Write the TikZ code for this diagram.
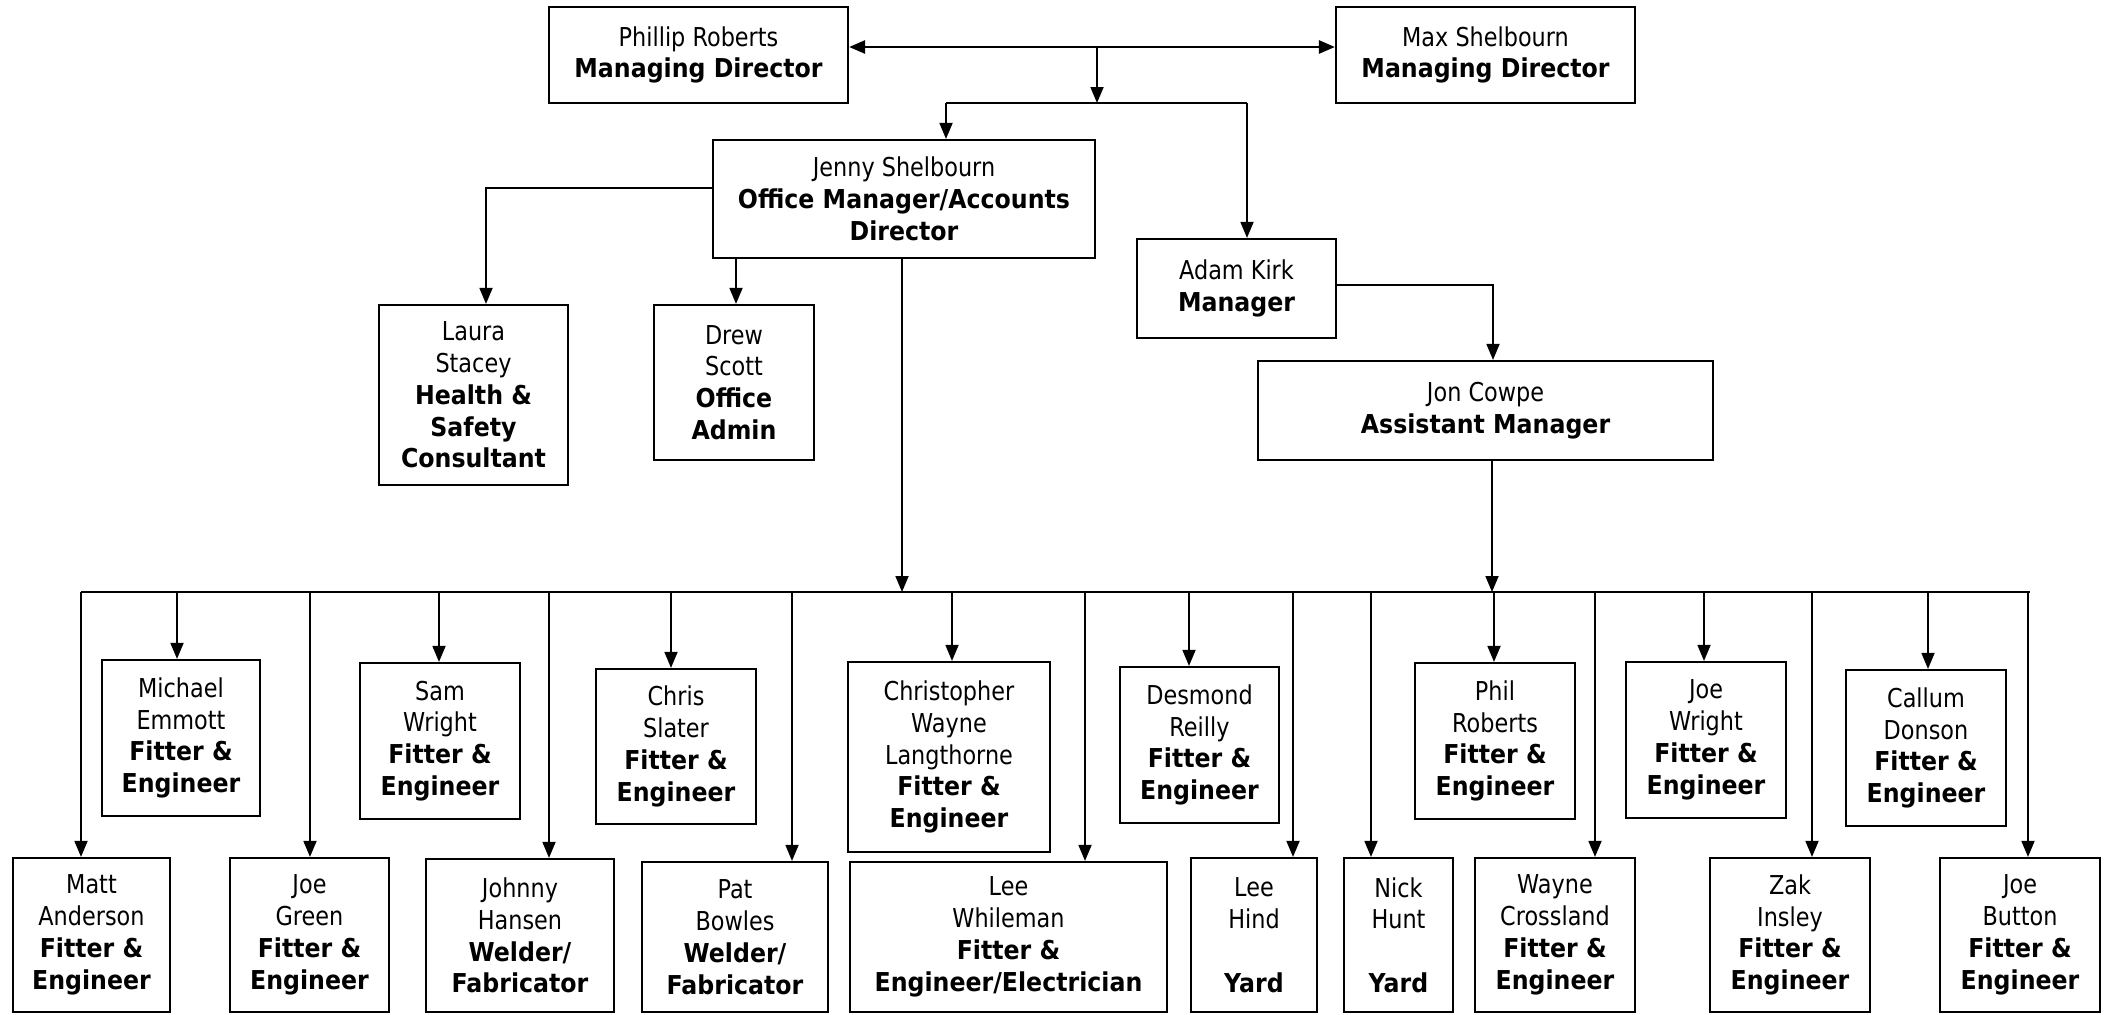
\documentclass[tikz,border=0pt]{standalone}
\usepackage{fontspec}
\setmainfont{DejaVu Sans}[UprightFeatures={FakeStretch=0.86},BoldFeatures={FakeStretch=0.91}]
\usetikzlibrary{arrows.meta,calc}
\begin{document}
\begin{tikzpicture}[x=1pt,y=-1pt,
  box/.style={draw, line width=2.2pt, align=center, inner sep=2pt, fill=white,
    font=\fontsize{26}{31.8}\selectfont},
  conn/.style={line width=1.8pt},
  arr/.style={line width=1.8pt, -{Triangle[length=16pt,width=13pt]}},
  darr/.style={line width=2.6pt, {Triangle[length=16pt,width=13pt]}-{Triangle[length=16pt,width=13pt]}}]
\useasboundingbox (0,0) rectangle (2105,1015);
% top level
\node[box, minimum width=299pt, minimum height=96pt] (phillip) at (698.5,55) {Phillip Roberts\\\textbf{Managing Director}};
\node[box, minimum width=299pt, minimum height=96pt] (max) at (1485.5,55) {Max Shelbourn\\\textbf{Managing Director}};
\node[box, minimum width=382pt, minimum height=118pt] (jenny) at (904,199) {Jenny Shelbourn\\\textbf{Office Manager/Accounts}\\\textbf{Director}};
\node[box, minimum width=199pt, minimum height=99pt] (adam) at (1236.5,288.5) {Adam Kirk\\\textbf{Manager}};
\node[box, minimum width=189pt, minimum height=180pt] (laura) at (473.5,395) {Laura\\Stacey\\\textbf{Health \&}\\\textbf{Safety}\\\textbf{Consultant}};
\node[box, minimum width=160pt, minimum height=155pt] (drew) at (734,382.5) {Drew\\Scott\\\textbf{Office}\\\textbf{Admin}};
\node[box, minimum width=455pt, minimum height=99pt] (jon) at (1485.5,410.5) {Jon Cowpe\\\textbf{Assistant Manager}};
% row 1
\node[box, minimum width=158pt, minimum height=156pt] (michael) at (181,738) {Michael\\Emmott\\\textbf{Fitter \&}\\\textbf{Engineer}};
\node[box, minimum width=160pt, minimum height=156pt] (sam) at (440,741) {Sam\\Wright\\\textbf{Fitter \&}\\\textbf{Engineer}};
\node[box, minimum width=160pt, minimum height=155pt] (chris) at (676,746.5) {Chris\\Slater\\\textbf{Fitter \&}\\\textbf{Engineer}};
\node[box, minimum width=202pt, minimum height=190pt] (christopher) at (949,757) {Christopher\\Wayne\\Langthorne\\\textbf{Fitter \&}\\\textbf{Engineer}};
\node[box, minimum width=159pt, minimum height=156pt] (desmond) at (1199.5,745) {Desmond\\Reilly\\\textbf{Fitter \&}\\\textbf{Engineer}};
\node[box, minimum width=160pt, minimum height=156pt] (phil) at (1495,741) {Phil\\Roberts\\\textbf{Fitter \&}\\\textbf{Engineer}};
\node[box, minimum width=160pt, minimum height=156pt] (joew) at (1706,740) {Joe\\Wright\\\textbf{Fitter \&}\\\textbf{Engineer}};
\node[box, minimum width=160pt, minimum height=156pt] (callum) at (1926,748) {Callum\\Donson\\\textbf{Fitter \&}\\\textbf{Engineer}};
% row 2
\node[box, minimum width=157pt, minimum height=154pt] (matt) at (91.5,935) {Matt\\Anderson\\\textbf{Fitter \&}\\\textbf{Engineer}};
\node[box, minimum width=159pt, minimum height=154pt] (joeg) at (309.5,935) {Joe\\Green\\\textbf{Fitter \&}\\\textbf{Engineer}};
\node[box, minimum width=188pt, minimum height=153pt] (johnny) at (520,935.5) {Johnny\\Hansen\\\textbf{Welder/}\\\textbf{Fabricator}};
\node[box, minimum width=186pt, minimum height=150pt] (pat) at (735,937) {Pat\\Bowles\\\textbf{Welder/}\\\textbf{Fabricator}};
\node[box, minimum width=317pt, minimum height=150pt] (leew) at (1008.5,937) {Lee\\Whileman\\\textbf{Fitter \&}\\\textbf{Engineer/Electrician}};
\node[box, minimum width=126pt, minimum height=154pt] (leeh) at (1254,935) {Lee\\Hind\\\mbox{}\\\textbf{Yard}};
\node[box, minimum width=109pt, minimum height=154pt] (nick) at (1398.5,935) {Nick\\Hunt\\\mbox{}\\\textbf{Yard}};
\node[box, minimum width=160pt, minimum height=154pt] (wayne) at (1555,935) {Wayne\\Crossland\\\textbf{Fitter \&}\\\textbf{Engineer}};
\node[box, minimum width=160pt, minimum height=154pt] (zak) at (1790,935) {Zak\\Insley\\\textbf{Fitter \&}\\\textbf{Engineer}};
\node[box, minimum width=160pt, minimum height=154pt] (joeb) at (2020,935) {Joe\\Button\\\textbf{Fitter \&}\\\textbf{Engineer}};
% top connectors
\coordinate (pm) at (1097,47);
\coordinate (j1) at (1097,103);
\coordinate (h1) at (946,103);
\coordinate (h2) at (1247,103);
\draw[darr] (pm -| phillip.east) -- (pm -| max.west);
\draw[arr] (pm) -- (j1);
\draw[conn] (h1) -- (h2);
\draw[arr] (h1) -- (h1 |- jenny.north);
\draw[arr] (h2) -- (h2 |- adam.north);
\coordinate (l1) at (486,188);
\draw[arr] (l1 -| jenny.west) -- (l1) -- (l1 |- laura.north);
\coordinate (dx) at (736,280);
\draw[arr] (dx |- jenny.south) -- (dx |- drew.north);
\coordinate (a1) at (1493,285);
\draw[arr] (a1 -| adam.east) -- (a1) -- (a1 |- jon.north);
% bus
\coordinate (busL) at (81,592);
\coordinate (busR) at (2030,592);
\draw[conn] (busL) -- (busR);
\coordinate (bj) at (902,592);
\draw[arr] (bj |- jenny.south) -- (bj);
\coordinate (bjon) at (1492,592);
\draw[arr] (bjon |- jon.south) -- (bjon);
% drops
\foreach \x/\n in {177/michael,439/sam,671/chris,952/christopher,1189/desmond,1494/phil,1704/joew,1928/callum,
  81/matt,310/joeg,549/johnny,792/pat,1085/leew,1293/leeh,1371/nick,1595/wayne,1812/zak,2028/joeb}{
  \coordinate (d-\n) at (\x,592);
  \draw[arr] (d-\n) -- (d-\n |- \n.north);
}
\end{tikzpicture}
\end{document}
